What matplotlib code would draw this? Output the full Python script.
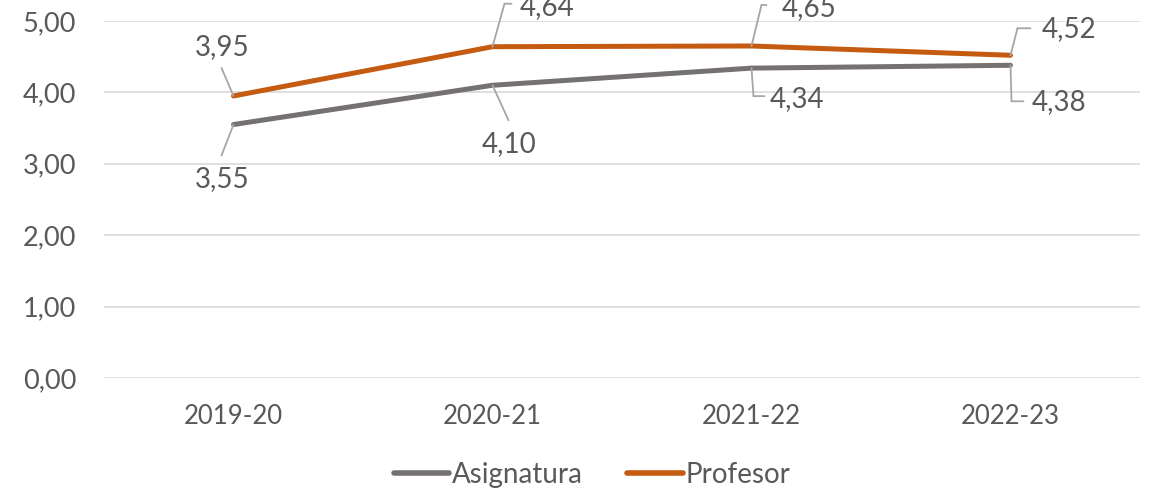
import matplotlib
matplotlib.use("Agg")
import matplotlib.pyplot as plt
from matplotlib.transforms import offset_copy

categories = ["2019-20", "2020-21", "2021-22", "2022-23"]
asignatura = [3.55, 4.10, 4.34, 4.38]
profesor = [3.95, 4.64, 4.65, 4.52]
yticks = [0, 1, 2, 3, 4, 5]

plt.rcParams['font.family'] = ['Lato', 'DejaVu Sans']
TXT = '#595959'
GRAY = '#767171'
ORANGE = '#C55A11'
LEAD = '#A6A6A6'

fig = plt.figure(figsize=(11.52, 4.92), dpi=100)
ax = fig.add_axes([104/1152, 1-378/492, 1036/1152, 357/492])
x = list(range(len(categories)))
ax.plot(x, asignatura, color=GRAY, lw=3.6, solid_capstyle='round', label='Asignatura', zorder=3)
ax.plot(x, profesor, color=ORANGE, lw=3.6, solid_capstyle='round', label='Profesor', zorder=3)

ax.set_xlim(-0.5, len(categories) - 0.5)
ax.set_ylim(0, 5)
ax.set_yticks(yticks)
ax.set_yticklabels([f"{v:.2f}".replace('.', ',') for v in yticks])
ax.set_xticks(x)
ax.set_xticklabels(categories)
ax.tick_params(length=0, colors=TXT)
ax.tick_params(axis='y', pad=20, labelsize=19.5)
ax.tick_params(axis='x', pad=19, labelsize=18.5)
ax.grid(axis='y', color='#D9D9D9', lw=1.2)
ax.set_axisbelow(True)
for s in ax.spines.values():
    s.set_visible(False)

k = 0.72  # px -> pt
def fmt(v):
    return f"{v:.2f}".replace('.', ',')

# (series, index, text offset px, leader polyline px from the point)
labels = [
    (profesor, 0, (-11, 49), [(-12, 28)]),
    (asignatura, 0, (-11, -55), [(-12, -31)]),
    (profesor, 1, (55, 40), [(12, 43), (19, 43)]),
    (asignatura, 1, (17, -59), [(16, -35)]),
    (profesor, 2, (58, 38), [(10, 41), (15, 41)]),
    (asignatura, 2, (45, -31), [(2, -28), (13, -28)]),
    (profesor, 3, (58, 26), [(7, 27), (20, 27)]),
    (asignatura, 3, (48, -37), [(1, -36), (13, -36)]),
]
for ser, i, (dx, dy), leader in labels:
    ax.annotate(fmt(ser[i]), (i, ser[i]), xytext=(dx*k, dy*k), textcoords='offset points',
                ha='center', va='center', fontsize=20, color=TXT, annotation_clip=False, zorder=5)
    pts = [(0, 0)] + leader
    for (x0, y0), (x1, y1) in zip(pts[:-1], pts[1:]):
        t0 = offset_copy(ax.transData, fig=fig, x=x0*k, y=y0*k, units='points')
        t1 = offset_copy(ax.transData, fig=fig, x=x1*k, y=y1*k, units='points')
        ax.annotate('', xy=(i, ser[i]), xycoords=t0, xytext=(i, ser[i]), textcoords=t1,
                    arrowprops=dict(arrowstyle='-', color=LEAD, lw=1.3, shrinkA=0, shrinkB=0),
                    annotation_clip=False)

leg = fig.legend(loc='center', bbox_to_anchor=(592/1152, 1-475/492), ncol=2, frameon=False,
                 fontsize=20, handlelength=2.0, handletextpad=0.1, columnspacing=1.6)
for t in leg.get_texts():
    t.set_color(TXT)
for h in leg.legend_handles:
    h.set_linewidth(4)

fig.savefig('out.png', dpi=100)
